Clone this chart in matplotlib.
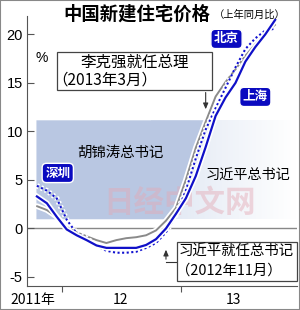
import numpy as np
import pandas as pd
import matplotlib
matplotlib.use("Agg")
import matplotlib.pyplot as plt
from matplotlib.patches import Rectangle
import matplotlib.patheffects as pe

plt.rcParams['font.family'] = ['Noto Sans CJK SC', 'DejaVu Sans']

# ---------------- data ----------------
periods = pd.period_range('2011-10', '2013-10', freq='M')
beijing = [2.3, 1.9, 1.2, 0.15, -0.4, -0.8, -1.2, -1.5, -1.2, -1.0, -0.9, -0.7, -0.2,
           0.8, 2.1, 5.0, 8.3, 11.0, 13.6, 15.1, 16.4, 17.8, 19.0, 20.2, 21.0]
shanghai = [3.3, 2.6, 1.2, -0.1, -0.7, -1.2, -1.75, -2.0, -2.0, -2.0, -2.0, -1.7, -1.1,
            0.0, 1.5, 3.1, 5.4, 8.4, 11.6, 13.5, 15.0, 17.2, 18.7, 20.0, 21.5]
shenzhen = [4.4, 3.9, 3.1, 0.9, -0.5, -1.0, -1.8, -2.3, -2.5, -2.5, -2.4, -2.0, -1.5,
            -0.4, 1.4, 3.9, 7.2, 10.2, 12.4, 14.5, 16.6, 18.5, 19.6, 20.4, 20.6]
yticks = [-5, 0, 5, 10, 15, 20]
year_labels = ['2011年', '12', '13']
band_low, band_high = 1.0, 11.2

# month positions: 0 = start of Jan 2012, points at month centres
x = np.array([(p.year - 2012) * 12 + (p.month - 1) + 0.5 for p in periods])

W, H = 300, 310
fig = plt.figure(figsize=(W / 100, H / 100), dpi=100)
fig.patch.set_facecolor('white')

def fp(px, py):
    return (px / W, 1 - py / H)

ax = fig.add_axes([27 / W, (H - 286) / H, (297 - 27) / W, (286 - 16) / H])
ax.set_xlim(-3.5, 23.7)
ax.set_ylim(-5.93, 21.9)
ax.set_facecolor('none')

# background regions
grad = np.linspace(0, 1, 256)[None, :]
c0 = np.array([0.87, 0.90, 0.95])
c1 = np.array([1.0, 1.0, 1.0])
img = c0[None, None, :] * (1 - grad[..., None]) + c1[None, None, :] * grad[..., None]
ax.imshow(img, extent=[9.0, 23.6, band_low, band_high], aspect='auto', zorder=0.5)
bj = np.array(beijing)
imin = int(np.argmin(bj))
yy = np.linspace(band_low, band_high, 200)
xr = np.interp(yy, bj[imin:], x[imin:])
ax.fill_betweenx(yy, x[0] - 0.1, xr, color='#b9c7e2', lw=0, zorder=0.6)

# watermark
ax.text(11.9, 2.6, '日经中文网', fontsize=22, fontweight='bold', color='#e4a8b4',
        alpha=0.45, ha='center', va='center', zorder=0.8)

# zero line
ax.axhline(0, color='#888888', lw=1.0, zorder=1)

halo = [pe.withStroke(linewidth=4.0, foreground='white')]
ax.plot(x, beijing, color='#8a8a8a', lw=1.4, zorder=3, path_effects=halo,
        solid_capstyle='round')
ax.plot(x, shenzhen, color='#1010d0', lw=1.5, ls=(0, (1, 1.2)), zorder=4,
        path_effects=[pe.withStroke(linewidth=4.0, foreground='white')])
ax.plot(x, shanghai, color='#1010c8', lw=1.6, zorder=5, path_effects=halo)

# spines & ticks
for s in ['top', 'right']:
    ax.spines[s].set_visible(False)
ax.spines['left'].set_color('#555555')
ax.spines['bottom'].set_color('#555555')
ax.set_yticks(yticks)
ax.set_yticklabels([str(v) for v in yticks], family=['Liberation Sans'], fontsize=10.5)
ax.tick_params(axis='y', direction='in', length=5, color='#555555', pad=3)
ax.set_xticks([0, 12])
ax.set_xticklabels(['', ''])
ax.tick_params(axis='x', which='major', direction='out', length=4, color='#555555')
ax.set_xticks([-2.9, 5.9, 17.3], minor=True)
ax.set_xticklabels(year_labels, minor=True, fontsize=10)
ax.tick_params(axis='x', which='minor', length=0, pad=5)
ax.text(-1.4, 17.6, '%', transform=ax.transData, fontsize=10,
        family=['Liberation Sans'], ha='right', va='center', clip_on=False)

# title
fig.text(*fp(63, 14), '中国新建住宅价格', fontsize=13.2, fontweight='bold', ha='left', va='center')
fig.text(*fp(214, 15), '（上年同月比）', fontsize=7.4, ha='left', va='center')

# category texts
ax.text(5.9, (228.5 - 153) / 9.7, '胡锦涛总书记', fontsize=10.4, ha='center', va='center', zorder=6)
ax.text(18.8, (228.5 - 175) / 9.7, '习近平总书记', fontsize=10.2, ha='center', va='center', zorder=6)

# city labels
lab = dict(fontsize=9, fontweight='bold', color='white', ha='center', va='center', zorder=7,
           bbox=dict(boxstyle='round,pad=0.25,rounding_size=0.35', fc='#0a0ac0', ec='white', lw=1))
ax.text(-0.4, (228.5 - 173) / 9.7, '深圳', **lab)
ax.text(16.6, (228.5 - 39) / 9.7, '北京', **lab)
ax.text(19.5, (228.5 - 97) / 9.7, '上海', **lab)

# annotation box 1
fig.add_artist(Rectangle(fp(57, 90), 155 / W, 38 / H, fc='white', ec='#444444', lw=0.9, zorder=8))
fig.text(*fp(80, 62), '李克强就任总理', fontsize=11.2, ha='left', va='center', zorder=9)
fig.text(*fp(52, 80), '（2013年3月）', fontsize=11.2, ha='left', va='center', zorder=9)
ax.annotate('', xy=(14.5, 12.0), xytext=(14.5, 14.3),
            arrowprops=dict(arrowstyle='-|>,head_length=0.35,head_width=0.15', color='#333333', lw=0.8),
            zorder=8)

# annotation box 2
fig.add_artist(Rectangle(fp(177, 281), 120 / W, 39 / H, fc='white', ec='#444444', lw=0.9, zorder=8))
fig.text(*fp(178, 252), '习近平就任总书记', fontsize=10.4, ha='left', va='center', zorder=9)
fig.text(*fp(176, 271), '（2012年11月）', fontsize=10.4, ha='left', va='center', zorder=9)
yv = (228.5 - 262) / 9.7
ax.plot([10.5, 11.6], [yv, yv], color='#333333', lw=0.8, zorder=8, clip_on=False)
ax.annotate('', xy=(10.5, -1.9), xytext=(10.5, yv),
            arrowprops=dict(arrowstyle='-|>,head_length=0.35,head_width=0.15', color='#333333', lw=0.8),
            zorder=8)

# image border
fig.add_artist(Rectangle((0, 0), 1, 1, transform=fig.transFigure, fill=False,
                         ec='#888888', lw=1.5, zorder=20))

fig.savefig('out.png', dpi=100, facecolor='white')
